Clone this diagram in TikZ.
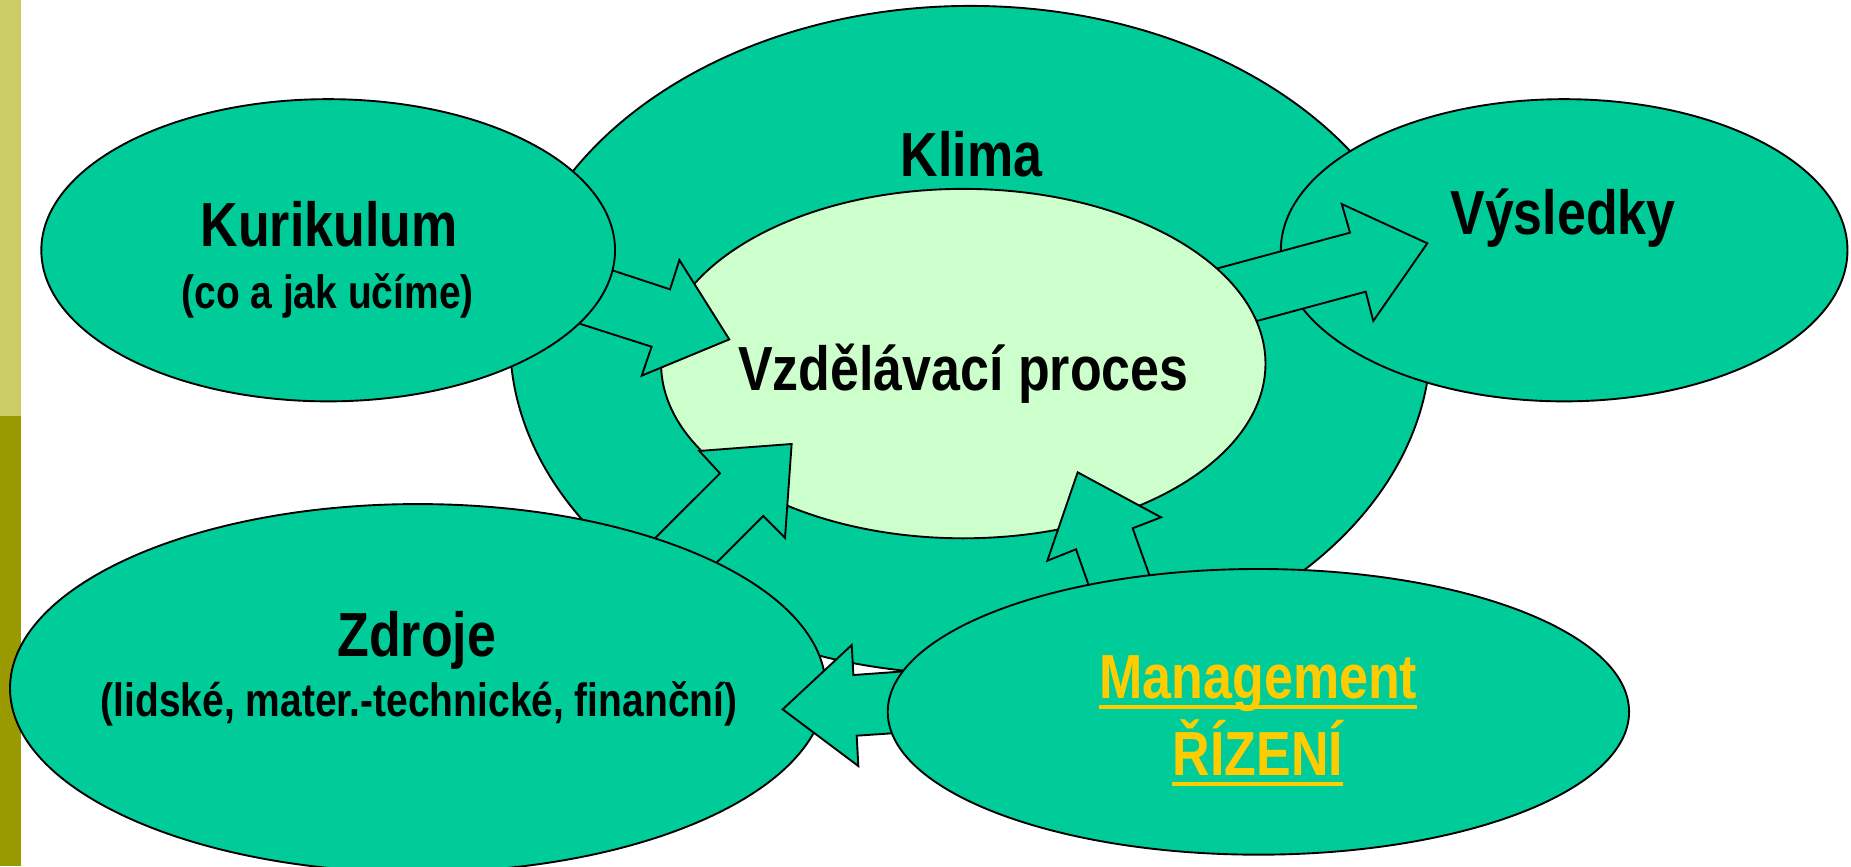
\documentclass[tikz,border=0pt]{standalone}
\usepackage{fontspec}
\setmainfont{Liberation Sans}
\usepackage{graphicx}
\usetikzlibrary{shapes.geometric}
\definecolor{klima}{HTML}{00CC99}
\definecolor{innerc}{HTML}{CCFFCC}
\definecolor{yel}{HTML}{FFCC00}
\definecolor{bartop}{HTML}{CCCC66}
\definecolor{barbot}{HTML}{999900}
\newcommand{\tallt}[1]{\scalebox{1}[1.2]{#1}}
\begin{document}
\begin{tikzpicture}[x=1pt,y=-1pt,
  oval/.style={ellipse, draw=black, line width=1.6pt, fill=klima, inner sep=0pt, outer sep=0pt},
  blockarrow/.style={draw=black, line width=1.6pt, fill=klima, line join=miter},
  bigtext/.style={font=\fontsize{44}{50}\selectfont\bfseries, inner sep=0pt, anchor=base},
  smalltext/.style={font=\fontsize{33}{38}\selectfont\bfseries, inner sep=0pt, anchor=base},
  uline/.style={fill=yel, draw=none}
]
\useasboundingbox (0,0) rectangle (1568,733.6);
\clip (0,0) rectangle (1568,733.6);
% side bar
\fill[bartop] (0,0) rectangle (18,352);
\fill[barbot] (0,352) rectangle (18,733.6);
% Klima
\node[oval, minimum width=780pt, minimum height=566pt] (klima) at (822,288) {};
% Vysledky
\node[oval, minimum width=480pt, minimum height=256pt] (vys) at (1325,212) {};
% arrow process -> vysledky
\draw[blockarrow] (1007.4,233.8) -- (1143.6,197.1) -- (1136.6,172.8) -- (1209.1,206.1)
  -- (1163.3,271.9) -- (1156.9,247.1) -- (1041.8,278.1) -- cycle;
% inner process
\node[oval, fill=innerc, minimum width=512pt, minimum height=296pt] (proc) at (816,308) {};
% arrow kurikulum -> process
\draw[blockarrow] (495.9,221.5) -- (567.6,245.1) -- (575.5,220.3) -- (617.8,287.5)
  -- (543.6,318.2) -- (552,293.7) -- (468.1,266.9) -- cycle;
% Kurikulum
\node[oval, minimum width=486pt, minimum height=256pt] (kur) at (278,212) {};
% arrow zdroje -> process
\draw[blockarrow] (535.7,475.1) -- (609.9,401) -- (592.4,382) -- (670.6,376.1)
  -- (665,455.5) -- (646.6,437.1) -- (592.2,491.5) -- cycle;
% Zdroje
\node[oval, minimum width=691pt, minimum height=312pt] (zdr) at (354,583) {};
% arrow management -> process
\draw[blockarrow] (930.2,518.3) -- (911.5,465.3) -- (887.2,475) -- (912.9,400.1)
  -- (983.5,438.2) -- (959.5,447.5) -- (981.7,509.8) -- cycle;
% arrow management -> zdroje
\draw[blockarrow] (790,567) -- (722.9,571.8) -- (721.5,546.4) -- (663,600.9)
  -- (727.1,648.9) -- (725.7,623.2) -- (785,619.2) -- cycle;
% Management
\node[oval, minimum width=628pt, minimum height=242pt] (man) at (1066,603) {};
% texts
\node[bigtext] (tklima) at (823,149.7) {\tallt{Klima}};
\node[bigtext] (tkur) at (278.8,209) {\tallt{Kurikulum}};
\node[smalltext] (tkur2) at (277.5,261.2) {\tallt{(co a jak učíme)}};
\node[bigtext] (tproc) at (816,330.4) {\tallt{Vzdělávací proces}};
\node[bigtext] (tvys) at (1324,199) {\tallt{Výsledky}};
\node[bigtext] (tzdr) at (353,556.3) {\tallt{Zdroje}};
\node[smalltext] (tzdr2) at (355,607) {\tallt{(lidské, mater.-technické, finanční)}};
\node[bigtext, text=yel] (tman) at (1066,591.6) {\tallt{Management}};
\node[bigtext, text=yel] (triz) at (1065.5,656.5) {\tallt{ŘÍZENÍ}};
\fill[uline] ([yshift=-5.6pt]tman.base west) rectangle ([yshift=-9pt]tman.base east);
\fill[uline] ([yshift=-6.2pt]triz.base west) rectangle ([yshift=-9.4pt]triz.base east);
\end{tikzpicture}
\end{document}
